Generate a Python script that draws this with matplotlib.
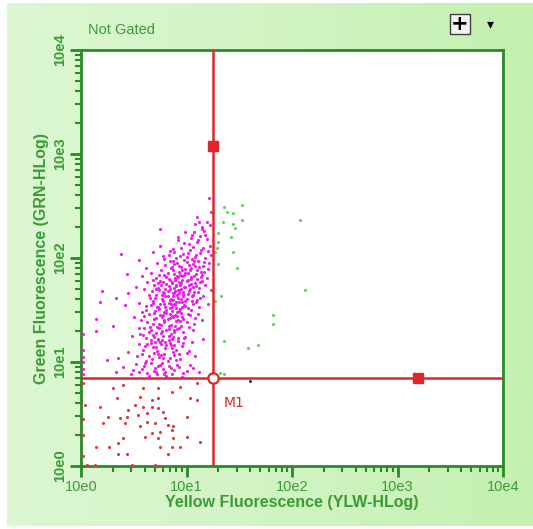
import numpy as np
import matplotlib.pyplot as plt
from matplotlib.patches import Rectangle
from matplotlib.colors import LinearSegmentedColormap
from matplotlib.ticker import FixedLocator, LogLocator, NullFormatter

# events, stored as log10 decades
magenta_lx = [1.21, 1.23, 1.22, 1.12, 1.15, 1.08, 1.17, 0.75, 0.99, 1.05, 1.13, 1.19, 0.92, 1.10, 1.02, 0.75, 0.95, 1.16, 1.22, 0.88,
              0.38, 0.55, 0.68, 0.78, 0.84, 0.90, 0.97, 1.03, 1.08, 1.13, 1.18, 1.23, 0.72, 0.80, 0.87, 0.93, 1.00, 1.06, 1.11, 1.16,
              1.21, 0.62, 0.76, 0.85, 0.96, 1.04, 1.14, 1.20,
              0.44, 0.58, 0.66, 0.71, 0.79, 0.83, 0.88, 0.92, 0.98, 1.01, 1.07, 1.10, 1.15, 1.19, 0.63, 0.69, 0.75, 0.81, 0.86, 0.90,
              0.95, 0.99, 1.04, 1.09, 1.13, 1.18, 0.52, 0.60, 0.67, 0.73, 0.78, 0.84, 0.88, 0.93, 0.97, 1.02, 1.06, 1.11, 1.16, 1.23,
              0.65, 0.71, 0.77, 0.82, 0.87, 0.92, 0.96, 1.00, 1.05, 1.10, 0.20, 0.33, 0.45,
              0.18, 0.42, 0.55, 0.62, 0.68, 0.73, 0.79, 0.84, 0.89, 0.94, 0.99, 1.04, 1.12, 1.20, 0.58, 0.64, 0.70, 0.75, 0.81, 0.86,
              0.91, 0.96, 1.01, 1.08, 0.50, 0.57, 0.63, 0.69, 0.74, 0.79, 0.85, 0.90, 0.95, 1.00, 1.15, 0.60, 0.66, 0.72, 0.77, 0.83,
              0.88, 0.93, 1.06, 0.14, 0.14, 0.02, 0.30,
              0.48, 0.56, 0.62, 0.68, 0.73, 0.78, 0.83, 0.87, 0.92, 0.98, 1.05, 1.16, 0.55, 0.61, 0.66, 0.71, 0.76, 0.80, 0.85, 0.90,
              0.96, 1.02, 0.45, 0.58, 0.64, 0.69, 0.74, 0.79, 0.84, 0.88, 0.94, 1.08, 0.35, 0.02, 0.02, 0.02, 0.25,
              0.40, 0.52, 0.60, 0.66, 0.70, 0.75, 0.78, 0.83, 0.88, 0.93, 1.00, 1.06, 0.55, 0.63, 0.72, 0.80, 0.86, 0.97, 1.12, 0.47,
              0.02, 0.02, 0.33,
              0.81, 0.69, 0.58, 0.91, 0.77, 0.64, 0.85, 0.73, 1.03, 0.49, 0.96, 0.61, 0.79, 0.71,
              0.82, 0.67, 0.76, 0.59, 0.87, 0.93, 0.72, 0.63, 0.81, 0.97, 0.68, 0.53, 0.90, 0.75, 0.86, 0.62, 1.00, 0.78, 0.70, 0.84,
              0.77, 0.69, 0.85, 0.92, 0.64, 0.81, 0.74, 0.97, 0.89, 0.68, 0.79, 1.02, 0.59, 0.86, 0.71, 0.94, 0.83, 0.76, 0.65, 0.88,
              0.99, 0.73, 1.07, 0.55,
              0.82, 0.77, 0.91, 0.69, 0.86, 0.95, 0.74, 0.80, 1.01, 0.66, 0.88, 0.93, 0.78, 1.06, 0.71, 0.84, 0.97, 0.62, 0.90, 0.75,
              1.11, 0.83, 0.68, 0.98, 0.87, 0.79,
              0.85, 0.91, 0.79, 0.97, 0.74, 0.88, 1.03, 0.83, 0.94, 1.08, 0.78, 0.89, 1.00, 0.70, 0.95, 1.05, 0.82, 0.92, 0.86, 1.12,
              0.76, 0.98, 1.15, 0.68, 0.93, 1.01, 0.80, 0.87,
              0.89, 0.96, 1.04, 0.82, 0.93, 1.09, 0.99, 0.86, 1.02, 1.12, 0.91, 0.98, 1.07, 0.79, 1.17, 0.94, 1.01, 0.74, 0.88, 1.05,
              1.14, 0.84,
              0.94, 1.01, 1.09, 0.87, 1.06, 1.14, 0.98, 1.11, 1.04, 1.18, 0.92, 1.07, 1.15, 1.19, 1.00, 0.83, 1.20, 1.10,
              0.84, 0.89, 0.93, 0.86, 0.81, 0.96, 0.90, 0.84, 0.99, 0.87, 0.93, 0.80, 0.95, 0.90, 1.02, 0.84, 0.96, 1.04, 0.91, 0.99,
              0.87, 1.03, 0.95, 1.08, 0.92, 0.78, 1.03, 0.72, 0.85, 0.97, 1.07, 0.77, 1.06, 0.73, 0.81, 1.10, 0.89, 0.83, 0.91, 0.76,
              0.80, 0.73, 0.88, 0.66, 0.60, 0.64, 0.71, 1.09, 1.13, 1.17]
magenta_ly = [2.58, 2.44, 2.32, 2.35, 2.30, 2.33, 2.26, 2.28, 2.25, 2.22, 2.21, 2.18, 2.20, 2.15, 2.13, 2.12, 2.10, 2.10, 2.12, 2.06,
              2.04, 1.98, 2.06, 2.02, 2.07, 2.00, 2.04, 2.08, 2.01, 2.05, 2.00, 2.03, 1.95, 1.93, 1.97, 1.92, 1.96, 1.94, 1.97, 1.92,
              1.95, 1.90, 1.88, 1.90, 1.88, 1.90, 1.87, 1.89,
              1.85, 1.83, 1.86, 1.81, 1.84, 1.80, 1.85, 1.82, 1.84, 1.79, 1.83, 1.80, 1.84, 1.81, 1.77, 1.74, 1.78, 1.75, 1.77, 1.73,
              1.76, 1.72, 1.75, 1.73, 1.77, 1.74, 1.72, 1.70, 1.68, 1.71, 1.67, 1.70, 1.66, 1.69, 1.65, 1.68, 1.64, 1.67, 1.63, 1.69,
              1.62, 1.64, 1.61, 1.63, 1.60, 1.62, 1.58, 1.61, 1.59, 1.60, 1.68, 1.62, 1.66,
              1.58, 1.55, 1.57, 1.54, 1.57, 1.53, 1.56, 1.52, 1.55, 1.51, 1.54, 1.50, 1.53, 1.56, 1.48, 1.46, 1.49, 1.45, 1.47, 1.44,
              1.48, 1.43, 1.46, 1.42, 1.43, 1.40, 1.38, 1.41, 1.37, 1.40, 1.36, 1.39, 1.35, 1.38, 1.40, 1.33, 1.31, 1.34, 1.30, 1.32,
              1.29, 1.33, 1.31, 1.41, 1.30, 1.27, 1.35,
              1.25, 1.27, 1.23, 1.26, 1.22, 1.25, 1.21, 1.24, 1.20, 1.23, 1.19, 1.22, 1.17, 1.15, 1.18, 1.14, 1.17, 1.13, 1.16, 1.12,
              1.15, 1.11, 1.10, 1.08, 1.06, 1.09, 1.05, 1.08, 1.04, 1.07, 1.03, 1.06, 1.04, 1.12, 1.05, 1.00, 1.02,
              0.95, 0.98, 0.96, 0.99, 0.94, 0.97, 0.93, 0.96, 0.92, 0.95, 0.91, 0.94, 0.90, 0.89, 0.88, 0.90, 0.88, 0.89, 0.90, 0.88,
              0.93, 0.88, 0.90,
              0.87, 0.91, 0.93, 0.97, 0.99, 0.87, 0.94, 0.96, 0.97, 0.92, 0.86, 0.99, 0.88, 0.90,
              1.01, 1.03, 1.07, 1.12, 1.10, 1.08, 1.11, 1.17, 1.16, 1.18, 1.14, 1.06, 1.02, 1.19, 1.13, 1.01, 1.09, 1.04, 1.19, 1.18,
              1.21, 1.24, 1.27, 1.23, 1.29, 1.31, 1.33, 1.29, 1.35, 1.37, 1.38, 1.34, 1.26, 1.22, 1.28, 1.39, 1.25, 1.36, 1.34, 1.31,
              1.24, 1.21, 1.37, 1.33,
              1.41, 1.43, 1.44, 1.47, 1.49, 1.47, 1.51, 1.53, 1.52, 1.55, 1.56, 1.58, 1.59, 1.56, 1.42, 1.46, 1.41, 1.50, 1.52, 1.56,
              1.46, 1.57, 1.59, 1.55, 1.43, 1.48,
              1.61, 1.64, 1.66, 1.67, 1.69, 1.71, 1.70, 1.73, 1.74, 1.76, 1.77, 1.79, 1.78, 1.62, 1.61, 1.63, 1.68, 1.69, 1.76, 1.71,
              1.74, 1.72, 1.78, 1.79, 1.77, 1.65, 1.63, 1.66,
              1.81, 1.83, 1.82, 1.86, 1.87, 1.85, 1.89, 1.91, 1.93, 1.91, 1.95, 1.98, 1.97, 1.99, 1.96, 1.84, 1.86, 1.84, 1.94, 1.99,
              1.82, 1.97,
              2.02, 2.05, 2.03, 2.09, 2.11, 2.08, 2.14, 2.17, 2.19, 2.22, 2.17, 2.25, 2.28, 2.35, 2.01, 2.03, 2.07, 2.39,
              1.42, 1.45, 1.49, 1.53, 1.50, 1.53, 1.58, 1.60, 1.59, 1.63, 1.66, 1.70, 1.70, 1.74, 1.74, 1.79, 1.79, 1.80, 1.83, 1.86,
              1.88, 1.88, 1.91, 1.92, 1.40, 1.45, 1.45, 1.53, 1.56, 1.63, 1.67, 1.64, 1.72, 1.76, 1.82, 1.88, 1.68, 1.35, 1.32, 1.28,
              1.19, 1.08, 1.16, 1.21, 1.44, 1.64, 1.70, 1.58, 1.62, 1.87]

red_lx = [0.30, 0.40, 0.59, 0.73, 0.86, 0.94, 1.10, 0.34, 0.56, 0.67, 0.73, 1.03, 1.10, 0.18, 0.45, 0.51, 0.59, 0.67, 0.73, 0.78,
          0.44, 0.54, 0.63, 0.26, 0.21, 0.37, 0.42, 0.56, 0.63, 0.70, 0.80, 0.82, 0.87, 1.00, 0.75, 0.86, 0.61, 0.40, 0.73, 0.67,
          0.87, 1.00, 0.75, 0.86, 0.94, 0.14, 0.27, 0.35, 0.35, 0.44, 0.82, 1.13, 0.06, 0.13, 0.48, 0.70, 0.75, 0.04, 0.02, 0.02,
          0.02, 0.02]
red_ly = [0.75, 0.78, 0.75, 0.75, 0.71, 0.76, 0.80, 0.65, 0.66, 0.63, 0.65, 0.65, 0.63, 0.57, 0.54, 0.59, 0.57, 0.57, 0.56, 0.52,
          0.47, 0.49, 0.51, 0.47, 0.41, 0.46, 0.41, 0.38, 0.42, 0.41, 0.46, 0.39, 0.38, 0.47, 0.33, 0.35, 0.28, 0.27, 0.27, 0.32,
          0.27, 0.28, 0.18, 0.18, 0.18, 0.18, 0.18, 0.22, 0.12, 0.12, 0.12, 0.23, 0.01, 0.01, 0.01, 0.01, 0.00, 0.59, 0.80, 0.45,
          0.30, 0.10]

green_lx = [1.36, 1.38, 1.44, 1.53, 1.35, 1.44, 1.46, 1.53, 1.30, 1.42, 1.30, 1.29, 1.44, 1.27, 1.30, 1.48, 2.08, 2.12, 1.33,
            1.27, 1.82, 1.82, 1.36, 1.68, 1.58, 1.32, 1.36]
green_ly = [2.49, 2.44, 2.43, 2.51, 2.35, 2.33, 2.29, 2.37, 2.24, 2.20, 2.15, 2.10, 2.06, 2.06, 1.94, 1.90, 2.37, 1.69, 1.63,
            1.59, 1.45, 1.37, 1.20, 1.16, 1.13, 0.89, 0.88]

other_lx = [1.60]
other_ly = [0.82]

# M1 quadrant marker (gate crossing and its two handles)
gate_x = 17.8
gate_y = 7.0
handle_top_y = 1200
handle_right_x = 1560

decade_ticks = [1, 10, 100, 1000, 10000]
decade_labels = ["10e0", "10e1", "10e2", "10e3", "10e4"]

W, H = 533, 529
dark_green = "#2a8a2a"
text_green = "#3a9c34"
gate_red = "#e0262a"

fig = plt.figure(figsize=(W / 100, H / 100), dpi=100)

# light green panel behind everything
bg = fig.add_axes([0, 0, 1, 1], zorder=-10)
grad = np.linspace(0, 1, 256).reshape(1, -1)
cmap = LinearSegmentedColormap.from_list("panel", ["#dcf7d2", "#d2f4c4", "#c4f0b0"])
bg.imshow(grad, aspect="auto", cmap=cmap, extent=[7 / W, 1, 3 / H, 1 - 3 / H])
bg.set_xlim(0, 1)
bg.set_ylim(0, 1)
bg.axis("off")

ax = fig.add_axes([81 / W, 1 - 466 / H, 422 / W, 416 / H])
ax.set_facecolor("white")
ax.set_xscale("log")
ax.set_yscale("log")
ax.set_xlim(1, 1e4)
ax.set_ylim(1, 1e4)

dot = dict(s=5, linewidths=0, zorder=3)
ax.scatter(10 ** np.array(magenta_lx), 10 ** np.array(magenta_ly), color="#f21af2", **dot)
ax.scatter(10 ** np.array(red_lx), 10 ** np.array(red_ly), color="#e0383a", **dot)
ax.scatter(10 ** np.array(green_lx), 10 ** np.array(green_ly), color="#5fd454", **dot)
ax.scatter(10 ** np.array(other_lx), 10 ** np.array(other_ly), color="#50207a", **dot)

ax.axvline(gate_x, color=gate_red, lw=1.8, zorder=4)
ax.axhline(gate_y, color=gate_red, lw=1.8, zorder=4)
ax.plot([gate_x], [handle_top_y], "s", color=gate_red, ms=6.5, zorder=5)
ax.plot([handle_right_x], [gate_y], "s", color=gate_red, ms=6.5, zorder=5)
ax.plot([gate_x], [gate_y], "o", mfc="white", mec=gate_red, mew=1.6, ms=7.5, zorder=6)
ax.text(gate_x * 1.25, gate_y * 0.57, "M1", color=gate_red, fontsize=10, va="center", ha="left")

for s in ax.spines.values():
    s.set_color(dark_green)
    s.set_linewidth(2)

ax.xaxis.set_major_locator(FixedLocator(decade_ticks))
ax.yaxis.set_major_locator(FixedLocator(decade_ticks))
ax.xaxis.set_minor_locator(LogLocator(base=10, subs=np.arange(2, 10)))
ax.yaxis.set_minor_locator(LogLocator(base=10, subs=np.arange(2, 10)))
ax.xaxis.set_minor_formatter(NullFormatter())
ax.yaxis.set_minor_formatter(NullFormatter())
ax.set_xticklabels(decade_labels)
ax.set_yticklabels(decade_labels, rotation=90, va="center")
ax.tick_params(which="major", length=8, width=2, color=dark_green, labelcolor=text_green,
               labelsize=10.5, pad=2)
ax.tick_params(which="minor", length=4, width=1.5, color=dark_green)
for lab in ax.get_xticklabels():
    lab.set_fontfamily("Liberation Sans")
for lab in ax.get_yticklabels():
    lab.set_fontweight("bold")
    lab.set_fontfamily("Liberation Sans")

ax.set_xlabel("Yellow Fluorescence (YLW-HLog)", color=text_green, fontsize=11.5,
              fontweight="bold", family="Liberation Sans", labelpad=1)
ax.set_ylabel("Green Fluorescence (GRN-HLog)", color=text_green, fontsize=11.5,
              fontweight="bold", family="Liberation Sans", labelpad=3)

fig.text(88 / W, 1 - 30 / H, "Not Gated", color=text_green, fontsize=10.5,
         family="Liberation Sans", va="center", ha="left")

# plus button and dropdown arrow in the corner
fig.patches.append(Rectangle((450 / W, 1 - 34 / H), 20 / W, 20 / H, transform=fig.transFigure,
                             facecolor="#f4f4f4", edgecolor="#404040", lw=1))
fig.text(460 / W, 1 - 24 / H, "+", fontsize=15, fontweight="bold", color="black",
         ha="center", va="center", family="DejaVu Sans")
fig.text(490 / W, 1 - 24 / H, "\u25BE", fontsize=10, color="black", ha="center", va="center",
         family="DejaVu Sans")

fig.savefig("out.png", dpi=100)
